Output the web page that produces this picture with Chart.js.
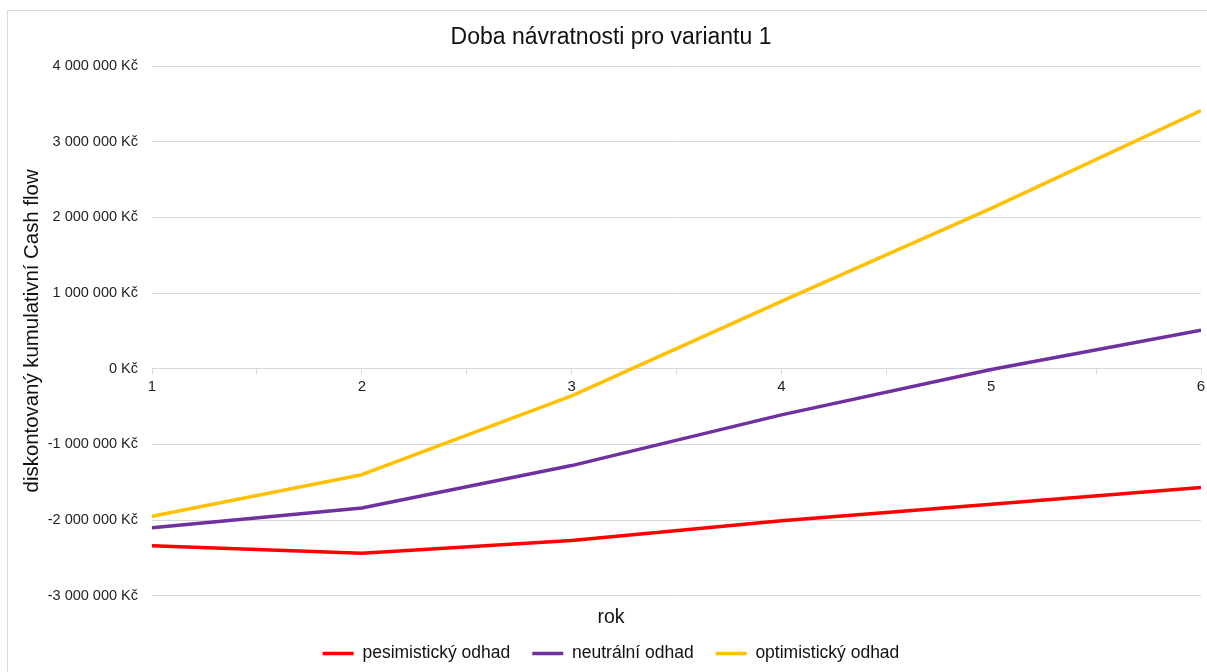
<!DOCTYPE html>
<html lang="cs">
<head>
<meta charset="utf-8">
<title>Doba návratnosti pro variantu 1</title>
<script src="https://cdn.jsdelivr.net/npm/chart.js@4/dist/chart.umd.min.js"></script>
<style>
  html, body { margin: 0; padding: 0; background: #ffffff; overflow: hidden; }
  #frame {
    position: absolute; left: 7px; top: 10px;
    width: 1208px; height: 700px;
    border: 1px solid #d9d9d9; box-sizing: border-box;
  }
  #chart { position: absolute; left: 0; top: 0; }
</style>
</head>
<body>
<div id="frame">
  <canvas id="chart" width="1206" height="663"></canvas>
</div>
<script>
// Roky a diskontovaný kumulativní cash flow (Kč) pro tři scénáře
const years = [1, 2, 3, 4, 5, 6];
const pesimisticky = [-2340000, -2440000, -2270000, -2010000, -1790000, -1570000];
const neutralni = [-2100000, -1840000, -1280000, -610000, -10000, 510000];
const optimisticky = [-1950000, -1400000, -360000, 890000, 2120000, 3410000];

const seriesNames = ['pesimistický odhad', 'neutrální odhad', 'optimistický odhad'];
const seriesColors = ['#ff0000', '#7030a0', '#ffc000'];

const chartTitle = 'Doba návratnosti pro variantu 1';
const yTitle = 'diskontovaný kumulativní Cash flow';
const xTitle = 'rok';

const yMin = -3000000, yMax = 4000000, yStep = 1000000;

function formatKc(v) {
  const s = Math.abs(v).toString().replace(/\B(?=(\d{3})+(?!\d))/g, ' ');
  return (v < 0 ? '-' : '') + s + ' Kč';
}

function toPoints(values) {
  return values.map((v, i) => ({ x: years[i], y: v }));
}

Chart.defaults.font.family = '"Liberation Sans", Arial, sans-serif';
Chart.defaults.color = '#1f1f1f';

const lineStyle = (i) => ({
  label: seriesNames[i],
  borderColor: seriesColors[i],
  backgroundColor: seriesColors[i],
  borderWidth: 3.5,
  pointRadius: 0,
  pointHoverRadius: 0,
  tension: 0,
  borderJoinStyle: 'round',
  fill: false
});

new Chart(document.getElementById('chart'), {
  type: 'line',
  data: {
    datasets: [
      { ...lineStyle(0), data: toPoints(pesimisticky) },
      { ...lineStyle(1), data: toPoints(neutralni) },
      { ...lineStyle(2), data: toPoints(optimisticky) }
    ]
  },
  options: {
    responsive: false,
    animation: false,
    devicePixelRatio: 1,
    layout: { padding: { left: 13, right: 13, top: 0, bottom: 1.75 } },
    plugins: {
      tooltip: { enabled: false },
      title: {
        display: true,
        text: chartTitle,
        font: { size: 23, weight: 'normal' },
        color: '#111111',
        padding: { top: 12.7, bottom: 14.7 }
      },
      legend: {
        position: 'bottom',
        align: 'center',
        title: {
          display: true,
          text: xTitle,
          font: { size: 19.5 },
          color: '#111111',
          padding: { top: 12.5, bottom: -8.9 }
        },
        labels: {
          usePointStyle: true,
          pointStyle: 'line',
          pointStyleWidth: 31,
          padding: 22,
          font: { size: 17.5 },
          color: '#111111'
        }
      }
    },
    scales: {
      x: {
        type: 'linear',
        position: { y: 0 },
        min: years[0],
        max: years[years.length - 1],
        grid: {
          drawOnChartArea: false,
          drawTicks: true,
          tickLength: 5,
          color: '#d9d9d9'
        },
        border: { display: true, color: '#d9d9d9', width: 1 },
        ticks: {
          stepSize: 0.5,
          autoSkip: false,
          maxRotation: 0,
          padding: 4,
          font: { size: 15 },
          color: '#1f1f1f',
          callback: (v) => Number.isInteger(v) ? String(v) : ''
        }
      },
      y: {
        type: 'linear',
        min: yMin,
        max: yMax,
        afterFit: (scale) => { scale.width = 131; },
        grid: { color: '#d9d9d9', lineWidth: 1, drawTicks: false },
        border: { display: false },
        ticks: {
          stepSize: yStep,
          padding: 14,
          font: { size: 14.5 },
          color: '#1f1f1f',
          callback: (v) => formatKc(v)
        },
        title: {
          display: true,
          text: yTitle,
          font: { size: 20.4, lineHeight: 1 },
          color: '#111111',
          padding: { top: 1, bottom: 0 }
        }
      }
    }
  }
});
</script>
</body>
</html>
